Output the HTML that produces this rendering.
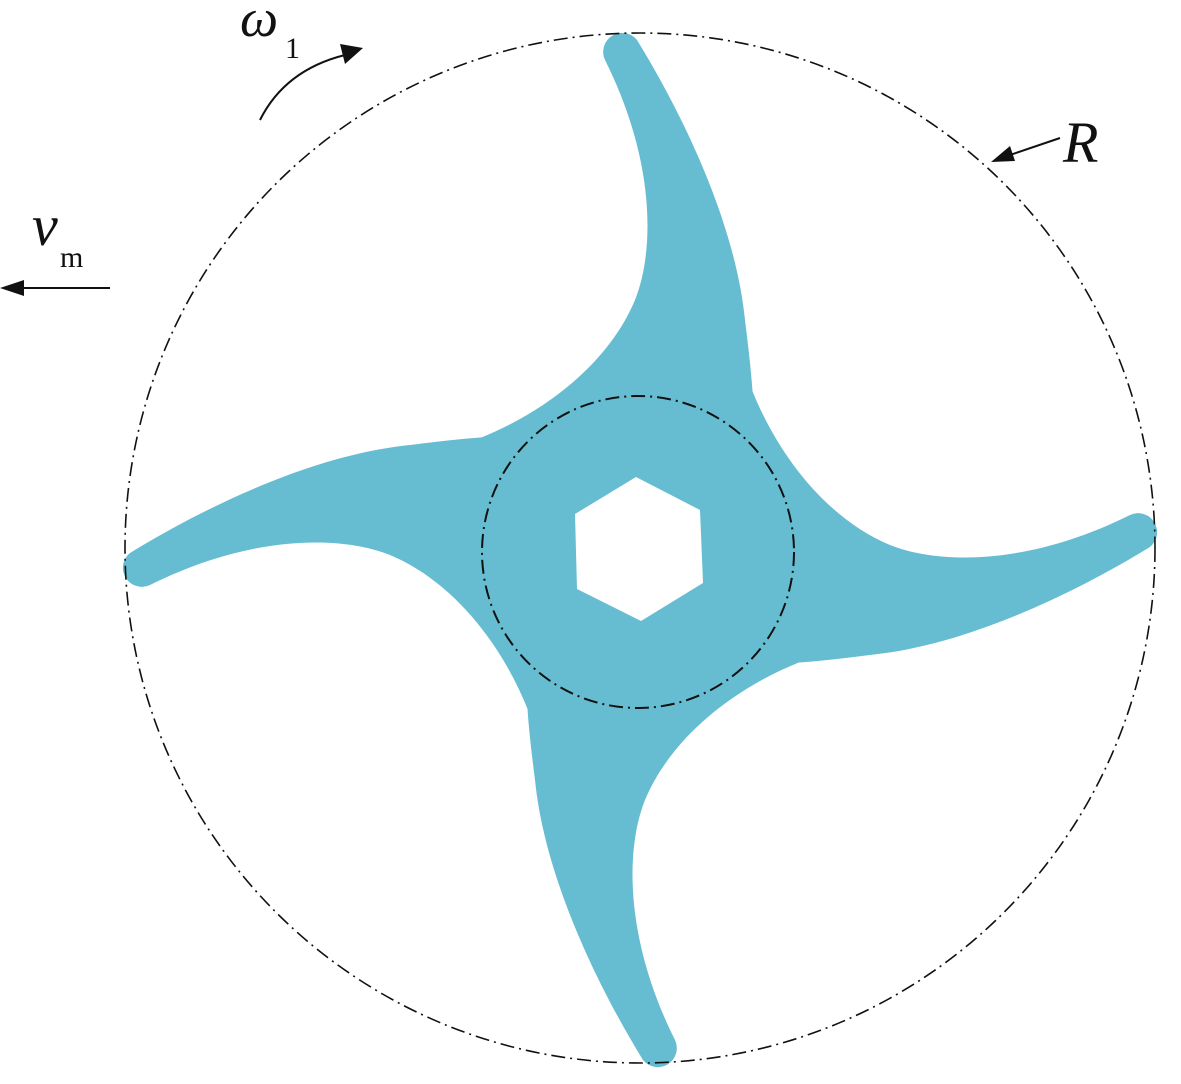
<!DOCTYPE html>
<html><head><meta charset="utf-8"><style>
html,body{margin:0;padding:0;background:#fff;}
svg{display:block;}
text{font-family:"Liberation Serif",serif;fill:#111;}
</style></head><body>
<svg width="1181" height="1084" viewBox="0 0 1181 1084" xmlns="http://www.w3.org/2000/svg">
<defs>
<g id="blade">
<path d="M0,0 L-160,-112 C-90,-140 -30,-190 -5,-250 C15,-300 15,-390 -35,-490 A19 19 0 0 1 -3,-510 C40,-440 95,-330 105,-230 C110,-190 112,-170 113,-150 Z" fill="#66bdd1"/>
</g>
</defs>
<g transform="translate(640,550)">
<use href="#blade"/>
<use href="#blade" transform="rotate(90)"/>
<use href="#blade" transform="rotate(180)"/>
<use href="#blade" transform="rotate(270)"/>
</g>
<circle cx="638" cy="552" r="160" fill="#66bdd1"/>
<polygon points="636,477 700,510 703,583 641,621 577,589 575,514" fill="#fff"/>
<circle cx="638" cy="552" r="156" fill="none" stroke="#111" stroke-width="2" stroke-dasharray="14,5,2,5"/>
<circle cx="640" cy="548" r="515" fill="none" stroke="#111" stroke-width="1.6" stroke-dasharray="14,5,2,5"/>
<path d="M260,120 Q285,70 345,55" fill="none" stroke="#111" stroke-width="2"/>
<polygon points="363,48 340,44 345,64" fill="#111"/>
<text x="240" y="36" font-size="54" font-style="italic">ω</text>
<text x="285" y="58" font-size="30">1</text>
<text x="32" y="245" font-size="58" font-style="italic">v</text>
<text x="60" y="267" font-size="30">m</text>
<line x1="110" y1="288" x2="20" y2="288" stroke="#111" stroke-width="2"/>
<polygon points="0,288 24,280 24,296" fill="#111"/>
<text x="1063" y="162" font-size="58" font-style="italic">R</text>
<line x1="1060" y1="138" x2="1010" y2="155" stroke="#111" stroke-width="2"/>
<polygon points="991,162 1010,146 1015,161" fill="#111"/>
</svg>
</body></html>
